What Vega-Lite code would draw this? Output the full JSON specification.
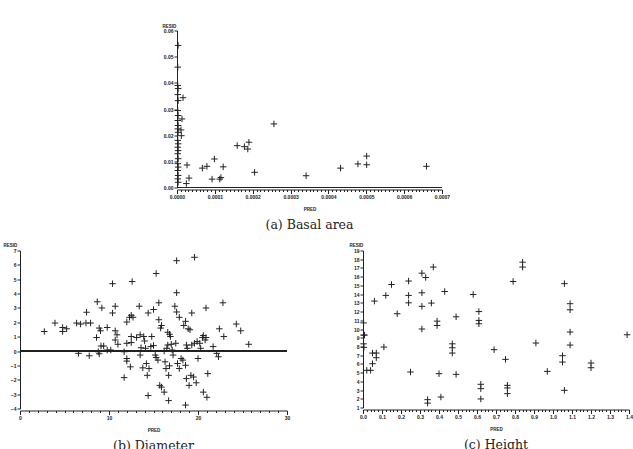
{
  "$schema": "https://vega.github.io/schema/vega-lite/v6.json",
  "background": "white",
  "padding": {"left": 3, "top": 23.5, "right": 0, "bottom": 0},
  "config": {
    "view": {"stroke": null},
    "axis": {
      "grid": false,
      "domainColor": "#222", "tickColor": "#222", "labelColor": "#222", "titleColor": "#222",
      "labelFont": "Liberation Sans", "labelFontSize": 5, "labelFontWeight": "bold",
      "titleFont": "Liberation Sans", "titleFontSize": 4.5, "titleFontWeight": "bold",
      "tickSize": 3, "labelPadding": 1, "labelFlush": false, "labelOverlap": false,
      "domainWidth": 1, "tickWidth": 1
    },
    "point": {"shape": "M-1,0L1,0M0,-1L0,1", "size": 42, "filled": false, "stroke": "#222", "strokeWidth": 1, "opacity": 1}
  },
  "datasets": {
    "basal": [
      {"pred": 0.000003, "resid": 0.0543}, {"pred": 0.000002, "resid": 0.046}, {"pred": 0.000002, "resid": 0.039},
      {"pred": 0.000003, "resid": 0.0378}, {"pred": 0.000002, "resid": 0.0355}, {"pred": 0.000003, "resid": 0.0332},
      {"pred": 0.0000159, "resid": 0.0343}, {"pred": 0.000002, "resid": 0.0294}, {"pred": 0.000003, "resid": 0.0275},
      {"pred": 0.0000132, "resid": 0.0262}, {"pred": 0.000002, "resid": 0.0256}, {"pred": 0.000003, "resid": 0.0237},
      {"pred": 0.000002, "resid": 0.0224}, {"pred": 0.0000106, "resid": 0.022}, {"pred": 0.000003, "resid": 0.0211},
      {"pred": 0.0000115, "resid": 0.0198}, {"pred": 0.000002, "resid": 0.018}, {"pred": 0.000003, "resid": 0.0167},
      {"pred": 0.000002, "resid": 0.0154}, {"pred": 0.000003, "resid": 0.0141}, {"pred": 0.000002, "resid": 0.0129},
      {"pred": 0.000003, "resid": 0.011}, {"pred": 0.000002, "resid": 0.0091}, {"pred": 0.000003, "resid": 0.0078},
      {"pred": 0.000002, "resid": 0.0065}, {"pred": 0.000003, "resid": 0.0046}, {"pred": 0.000002, "resid": 0.0033},
      {"pred": 0.000003, "resid": 0.002},
      {"pred": 0.0000265, "resid": 0.0086}, {"pred": 0.0000247, "resid": 0.0015}, {"pred": 0.0000317, "resid": 0.0036},
      {"pred": 0.000067, "resid": 0.0074}, {"pred": 0.000079, "resid": 0.0081}, {"pred": 0.0000926, "resid": 0.0032},
      {"pred": 0.0000988, "resid": 0.0109}, {"pred": 0.000113, "resid": 0.0032}, {"pred": 0.000116, "resid": 0.0038},
      {"pred": 0.000122, "resid": 0.0079}, {"pred": 0.000159, "resid": 0.016}, {"pred": 0.000178, "resid": 0.0156},
      {"pred": 0.000187, "resid": 0.0147}, {"pred": 0.00019, "resid": 0.0173}, {"pred": 0.000205, "resid": 0.0058},
      {"pred": 0.000256, "resid": 0.0243}, {"pred": 0.000341, "resid": 0.0045}, {"pred": 0.000432, "resid": 0.0074},
      {"pred": 0.000478, "resid": 0.009}, {"pred": 0.000501, "resid": 0.0087}, {"pred": 0.000501, "resid": 0.012},
      {"pred": 0.000659, "resid": 0.0081}
    ],
    "diam": [
      {"pred": 2.73, "resid": 1.36}, {"pred": 3.93, "resid": 1.95}, {"pred": 4.79, "resid": 1.64}, {"pred": 4.79, "resid": 1.36},
      {"pred": 5.24, "resid": 1.55}, {"pred": 6.36, "resid": 1.95}, {"pred": 6.81, "resid": 1.88}, {"pred": 6.58, "resid": -0.16},
      {"pred": 7.48, "resid": 2.7}, {"pred": 7.41, "resid": 1.95}, {"pred": 7.93, "resid": 1.95}, {"pred": 7.78, "resid": -0.33},
      {"pred": 8.68, "resid": 3.43}, {"pred": 9.2, "resid": 3.0}, {"pred": 8.6, "resid": 0.94}, {"pred": 8.9, "resid": 1.6},
      {"pred": 9.05, "resid": 1.41}, {"pred": 8.8, "resid": -0.05}, {"pred": 8.9, "resid": -0.19}, {"pred": 9.1, "resid": 0.35},
      {"pred": 9.4, "resid": 0.35}, {"pred": 9.8, "resid": 1.64}, {"pred": 9.8, "resid": 0.07}, {"pred": 10.2, "resid": 0.07},
      {"pred": 10.4, "resid": 4.69}, {"pred": 10.4, "resid": 2.65}, {"pred": 10.7, "resid": 3.12}, {"pred": 10.7, "resid": 1.41},
      {"pred": 10.9, "resid": 1.13}, {"pred": 10.7, "resid": 0.77}, {"pred": 11.0, "resid": 0.47}, {"pred": 11.7, "resid": -0.05},
      {"pred": 11.7, "resid": -1.85}, {"pred": 12.0, "resid": 2.02}, {"pred": 12.3, "resid": 2.35}, {"pred": 12.5, "resid": 2.49},
      {"pred": 12.7, "resid": 2.35}, {"pred": 12.6, "resid": 4.84}, {"pred": 12.0, "resid": 0.54}, {"pred": 12.5, "resid": 0.59},
      {"pred": 12.5, "resid": 1.01}, {"pred": 12.0, "resid": -0.52}, {"pred": 12.0, "resid": -0.7}, {"pred": 12.4, "resid": -1.1},
      {"pred": 13.1, "resid": 0.94}, {"pred": 13.4, "resid": 3.12}, {"pred": 13.5, "resid": 1.13}, {"pred": 13.6, "resid": 0.23},
      {"pred": 13.5, "resid": -0.28}, {"pred": 13.8, "resid": -1.17}, {"pred": 13.9, "resid": 1.01}, {"pred": 14.0, "resid": 0.7},
      {"pred": 14.1, "resid": 0.19}, {"pred": 14.2, "resid": -0.87}, {"pred": 14.3, "resid": -1.69}, {"pred": 14.4, "resid": -3.1},
      {"pred": 14.4, "resid": 2.65}, {"pred": 14.5, "resid": -1.22}, {"pred": 14.7, "resid": 0.31}, {"pred": 14.8, "resid": 1.01},
      {"pred": 15.0, "resid": 2.89}, {"pred": 15.0, "resid": 0.38}, {"pred": 15.2, "resid": -0.28}, {"pred": 15.3, "resid": 5.4},
      {"pred": 15.3, "resid": -0.45}, {"pred": 15.5, "resid": -0.63}, {"pred": 15.6, "resid": 2.18}, {"pred": 15.6, "resid": 3.36},
      {"pred": 15.8, "resid": 1.6}, {"pred": 15.9, "resid": 1.78}, {"pred": 15.7, "resid": -2.39}, {"pred": 15.9, "resid": -2.51},
      {"pred": 16.2, "resid": -2.86}, {"pred": 16.2, "resid": 0.0}, {"pred": 16.3, "resid": -0.75}, {"pred": 16.4, "resid": -1.22},
      {"pred": 16.5, "resid": 0.19}, {"pred": 16.6, "resid": 1.31}, {"pred": 16.6, "resid": 0.42}, {"pred": 16.7, "resid": -1.69},
      {"pred": 16.7, "resid": -3.45}, {"pred": 16.8, "resid": 1.17}, {"pred": 16.8, "resid": -1.03}, {"pred": 16.9, "resid": 1.01},
      {"pred": 17.0, "resid": 0.47}, {"pred": 17.1, "resid": 0.07}, {"pred": 17.2, "resid": -0.28}, {"pred": 17.4, "resid": 3.12},
      {"pred": 17.5, "resid": 0.54}, {"pred": 17.6, "resid": 4.06}, {"pred": 17.6, "resid": 6.29}, {"pred": 17.6, "resid": 2.72},
      {"pred": 17.7, "resid": -0.87}, {"pred": 17.9, "resid": 2.35}, {"pred": 17.9, "resid": -1.22}, {"pred": 18.1, "resid": -0.52},
      {"pred": 18.3, "resid": -0.63}, {"pred": 18.4, "resid": 1.78}, {"pred": 18.6, "resid": -0.99}, {"pred": 18.6, "resid": 2.07},
      {"pred": 18.7, "resid": 0.42}, {"pred": 18.8, "resid": 0.19}, {"pred": 18.9, "resid": 1.55}, {"pred": 18.7, "resid": -1.92},
      {"pred": 18.6, "resid": -3.76}, {"pred": 19.0, "resid": -2.39}, {"pred": 19.1, "resid": 1.48}, {"pred": 19.2, "resid": -1.69},
      {"pred": 19.3, "resid": 2.65}, {"pred": 19.3, "resid": 0.42}, {"pred": 19.5, "resid": -1.81}, {"pred": 19.6, "resid": 6.53},
      {"pred": 19.6, "resid": 0.54}, {"pred": 19.8, "resid": -2.21}, {"pred": 19.9, "resid": 0.66}, {"pred": 20.0, "resid": -0.52},
      {"pred": 20.2, "resid": 0.54}, {"pred": 20.3, "resid": 0.19}, {"pred": 20.5, "resid": 0.94}, {"pred": 20.6, "resid": 1.08},
      {"pred": 20.6, "resid": -2.86}, {"pred": 20.8, "resid": 0.77}, {"pred": 20.9, "resid": 3.0}, {"pred": 20.9, "resid": 0.94},
      {"pred": 21.0, "resid": -3.22}, {"pred": 21.1, "resid": -1.57}, {"pred": 21.7, "resid": 0.31}, {"pred": 22.1, "resid": -0.16},
      {"pred": 22.3, "resid": -0.4}, {"pred": 22.4, "resid": 1.55}, {"pred": 22.8, "resid": 3.36}, {"pred": 22.9, "resid": 1.01},
      {"pred": 24.3, "resid": 1.88}, {"pred": 24.8, "resid": 1.41}, {"pred": 25.7, "resid": 0.47}
    ],
    "height": [
      {"pred": 0.003, "resid": 10.7}, {"pred": 0.003, "resid": 9.3}, {"pred": 0.008, "resid": 9.3}, {"pred": 0.003, "resid": 8.3},
      {"pred": 0.005, "resid": 7.9},
      {"pred": 0.02, "resid": 5.26}, {"pred": 0.04, "resid": 5.26}, {"pred": 0.05, "resid": 6.02}, {"pred": 0.05, "resid": 7.24},
      {"pred": 0.07, "resid": 7.24}, {"pred": 0.07, "resid": 6.71}, {"pred": 0.06, "resid": 13.2}, {"pred": 0.11, "resid": 7.93},
      {"pred": 0.12, "resid": 13.85}, {"pred": 0.15, "resid": 15.1}, {"pred": 0.18, "resid": 11.75}, {"pred": 0.24, "resid": 13.85},
      {"pred": 0.24, "resid": 13.0}, {"pred": 0.24, "resid": 15.5}, {"pred": 0.25, "resid": 5.07}, {"pred": 0.31, "resid": 16.4},
      {"pred": 0.31, "resid": 14.15}, {"pred": 0.31, "resid": 12.6}, {"pred": 0.31, "resid": 10.0}, {"pred": 0.33, "resid": 15.9},
      {"pred": 0.34, "resid": 1.9}, {"pred": 0.34, "resid": 1.5}, {"pred": 0.36, "resid": 12.97}, {"pred": 0.37, "resid": 17.1},
      {"pred": 0.39, "resid": 10.9}, {"pred": 0.39, "resid": 10.4}, {"pred": 0.4, "resid": 4.88}, {"pred": 0.41, "resid": 2.2},
      {"pred": 0.43, "resid": 14.3}, {"pred": 0.47, "resid": 8.3}, {"pred": 0.47, "resid": 7.85}, {"pred": 0.47, "resid": 7.24},
      {"pred": 0.49, "resid": 11.4}, {"pred": 0.49, "resid": 4.8}, {"pred": 0.58, "resid": 13.96}, {"pred": 0.61, "resid": 12.0},
      {"pred": 0.61, "resid": 10.98}, {"pred": 0.61, "resid": 10.6}, {"pred": 0.62, "resid": 3.66}, {"pred": 0.62, "resid": 3.16},
      {"pred": 0.62, "resid": 1.98}, {"pred": 0.69, "resid": 7.63}, {"pred": 0.75, "resid": 6.52}, {"pred": 0.76, "resid": 3.54},
      {"pred": 0.76, "resid": 3.24}, {"pred": 0.76, "resid": 2.59}, {"pred": 0.79, "resid": 15.45}, {"pred": 0.84, "resid": 17.66},
      {"pred": 0.84, "resid": 17.1}, {"pred": 0.91, "resid": 8.39}, {"pred": 0.97, "resid": 5.14}, {"pred": 1.06, "resid": 15.2},
      {"pred": 1.05, "resid": 6.94}, {"pred": 1.05, "resid": 6.21}, {"pred": 1.06, "resid": 2.97}, {"pred": 1.09, "resid": 12.9},
      {"pred": 1.09, "resid": 12.2}, {"pred": 1.09, "resid": 9.65}, {"pred": 1.09, "resid": 8.16}, {"pred": 1.2, "resid": 6.1},
      {"pred": 1.2, "resid": 5.56}, {"pred": 1.39, "resid": 9.34}
    ]
  },
  "spacing": 11,
  "vconcat": [
    {
      "spacing": 141,
      "hconcat": [
        {"width": 1, "height": 20, "data": {"values": []}, "mark": "point", "encoding": {}},
        {
          "width": 265, "height": 157,
          "title": {"text": "(a) Basal area", "orient": "bottom", "anchor": "middle", "offset": 8, "baseline": "top", "font": "DejaVu Serif", "fontSize": 12.5, "fontWeight": "normal", "color": "#222"},
          "data": {"name": "basal"},
          "layer": [
            {
              "mark": "point",
              "encoding": {
                "x": {"field": "pred", "type": "quantitative", "scale": {"domain": [0, 0.0007], "nice": false, "zero": false},
                  "axis": {"title": "PRED", "offset": 2, "tickCount": 70, "titlePadding": 7,
                    "labelExpr": "abs(datum.value*10000 - round(datum.value*10000)) < 0.001 ? format(datum.value, '.4f') : ''",
                    "tickSize": {"condition": {"test": "abs(datum.value*10000 - round(datum.value*10000)) < 0.001", "value": 4}, "value": 2}}},
                "y": {"field": "resid", "type": "quantitative", "scale": {"domain": [0, 0.06], "nice": false, "zero": false},
                  "axis": {"title": "RESID", "tickCount": 6, "format": ".2f", "titleAngle": 0, "titleAlign": "left", "titleBaseline": "bottom", "titleX": -15, "titleY": -2}}
              }
            },
            {"mark": {"type": "rule", "color": "#222", "strokeWidth": 1}, "encoding": {"y": {"datum": 0, "type": "quantitative"}}}
          ]
        }
      ]
    },
    {
      "spacing": 59,
      "hconcat": [
        {
          "width": 267, "height": 158,
          "title": {"text": "(b) Diameter", "orient": "bottom", "anchor": "middle", "offset": 8, "baseline": "top", "font": "DejaVu Serif", "fontSize": 12.5, "fontWeight": "normal", "color": "#222"},
          "data": {"name": "diam"},
          "layer": [
            {
              "mark": "point",
              "encoding": {
                "x": {"field": "pred", "type": "quantitative", "scale": {"domain": [0, 30], "nice": false, "zero": false},
                  "axis": {"title": "PRED", "offset": 2, "tickCount": 30, "titlePadding": 7,
                    "labelExpr": "abs(datum.value/10 - round(datum.value/10)) < 0.001 ? format(datum.value, 'd') : ''",
                    "tickSize": {"condition": {"test": "abs(datum.value/10 - round(datum.value/10)) < 0.001", "value": 4}, "value": 2}}},
                "y": {"field": "resid", "type": "quantitative", "scale": {"domain": [-4, 7], "nice": false, "zero": false},
                  "axis": {"title": "RESID", "tickCount": 11, "format": "d", "titleAngle": 0, "titleAlign": "left", "titleBaseline": "bottom", "titleX": -17, "titleY": -3}}
              }
            },
            {"mark": {"type": "rule", "color": "#222", "strokeWidth": 1}, "encoding": {"y": {"datum": 0, "type": "quantitative"}}}
          ]
        },
        {
          "width": 266, "height": 157,
          "title": {"text": "(c) Height", "orient": "bottom", "anchor": "middle", "offset": 8, "baseline": "top", "font": "DejaVu Serif", "fontSize": 12.5, "fontWeight": "normal", "color": "#222"},
          "data": {"name": "height"},
          "mark": "point",
          "encoding": {
            "x": {"field": "pred", "type": "quantitative", "scale": {"domain": [0, 1.4], "nice": false, "zero": false},
              "axis": {"title": "PRED", "offset": 2, "tickCount": 70, "titlePadding": 7,
                "labelExpr": "abs(datum.value*10 - round(datum.value*10)) < 0.001 ? format(datum.value, '.1f') : ''",
                "tickSize": {"condition": {"test": "abs(datum.value*10 - round(datum.value*10)) < 0.001", "value": 4}, "value": 2}}},
            "y": {"field": "resid", "type": "quantitative", "scale": {"domain": [1, 19], "nice": false, "zero": false},
              "axis": {"title": "RESID", "tickCount": 18, "format": "d", "titleAngle": 0, "titleAlign": "left", "titleBaseline": "bottom", "titleX": -14, "titleY": -3}}
          }
        }
      ]
    }
  ]
}
